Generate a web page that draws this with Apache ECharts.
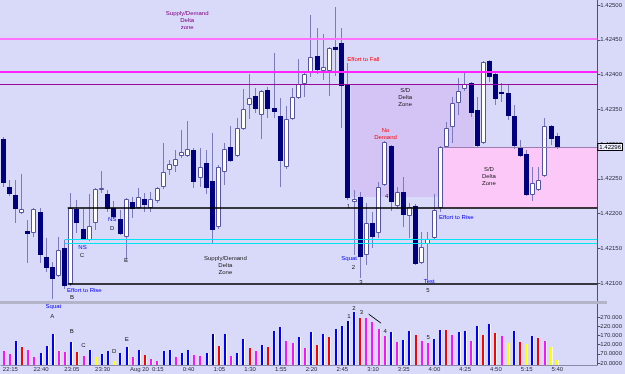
<!DOCTYPE html>
<html>
<head>
<meta charset="utf-8">
<script src="https://cdn.jsdelivr.net/npm/echarts@6/dist/echarts.min.js"></script>
<style>
  html, body { margin: 0; padding: 0; background: #d9d9f9; }
  #chart { width: 625px; height: 374px; }
</style>
</head>
<body>
<div id="chart"></div>
<script>
// M5 bars, 22:10 .. 5:40 (index 0 = 22:10)
const opens = [
  1.42307, 1.42238, 1.42227, 1.42201, 1.42175, 1.42172, 1.42202, 1.42137, 1.42123, 1.42110,
  1.42150, 1.42099, 1.42206, 1.42178, 1.42162, 1.42186, 1.42235, 1.42228, 1.42208, 1.42192,
  1.42166, 1.42217, 1.42208, 1.42221, 1.42208, 1.42218, 1.42238, 1.42263, 1.42268, 1.42283,
  1.42283, 1.42291, 1.42251, 1.42273, 1.42247, 1.42181, 1.42260, 1.42296, 1.42283, 1.42322,
  1.42356, 1.42369, 1.42342, 1.42378, 1.42352, 1.42340, 1.42267, 1.42336, 1.42366, 1.42386,
  1.42402, 1.42427, 1.42405, 1.42405, 1.42440, 1.42445, 1.42386, 1.42217, 1.42224, 1.42140,
  1.42186, 1.42172, 1.42241, 1.42297, 1.42211, 1.42231, 1.42196, 1.42211, 1.42129, 1.42156,
  1.42165, 1.42208, 1.42296, 1.42324, 1.42359, 1.42379, 1.42388, 1.42349, 1.42301, 1.42419,
  1.42401, 1.42375, 1.42373, 1.42340, 1.42294, 1.42286, 1.42227, 1.42234, 1.42254, 1.42326,
  1.42312
];
const closes = [
  1.42244, 1.42228, 1.42206, 1.42206, 1.42170, 1.42206, 1.42140, 1.42122, 1.42106, 1.42147,
  1.42096, 1.42208, 1.42186, 1.42163, 1.42182, 1.42235, 1.42237, 1.42206, 1.42195, 1.42170,
  1.42221, 1.42206, 1.42224, 1.42212, 1.42221, 1.42237, 1.42260, 1.42271, 1.42278, 1.42289,
  1.42293, 1.42245, 1.42267, 1.42237, 1.42176, 1.42267, 1.42293, 1.42276, 1.42323, 1.42350,
  1.42366, 1.42350, 1.42376, 1.42350, 1.42346, 1.42276, 1.42336, 1.42368, 1.42386, 1.42401,
  1.42425, 1.42406, 1.42411, 1.42438, 1.42435, 1.42383, 1.42222, 1.42221, 1.42137, 1.42186,
  1.42166, 1.42238, 1.42303, 1.42217, 1.42231, 1.42198, 1.42209, 1.42127, 1.42152, 1.42163,
  1.42205, 1.42296, 1.42323, 1.42359, 1.42376, 1.42386, 1.42345, 1.42297, 1.42418, 1.42396,
  1.42365, 1.42373, 1.42340, 1.42297, 1.42283, 1.42227, 1.42244, 1.42248, 1.42326, 1.42307,
  1.42296
];
const lows = [
  1.42238, 1.42225, 1.42186, 1.42199, 1.42129, 1.42166, 1.42129, 1.42116, 1.42077, 1.42109,
  1.42091, 1.42096, 1.42172, 1.42162, 1.42160, 1.42176, 1.42229, 1.42202, 1.42194, 1.42169,
  1.42133, 1.42194, 1.42206, 1.42202, 1.42202, 1.42215, 1.42235, 1.42255, 1.42260, 1.42280,
  1.42281, 1.42237, 1.42238, 1.42228, 1.42158, 1.42178, 1.42241, 1.42274, 1.42281, 1.42320,
  1.42336, 1.42345, 1.42307, 1.42337, 1.42337, 1.42238, 1.42264, 1.42335, 1.42365, 1.42368,
  1.42396, 1.42401, 1.42392, 1.42369, 1.42398, 1.42323, 1.42219, 1.42140, 1.42107, 1.42126,
  1.42150, 1.42165, 1.42240, 1.42204, 1.42206, 1.42181, 1.42165, 1.42126, 1.42127, 1.42104,
  1.42163, 1.42202, 1.42294, 1.42301, 1.42342, 1.42376, 1.42339, 1.42296, 1.42300, 1.42389,
  1.42356, 1.42360, 1.42335, 1.42293, 1.42281, 1.42225, 1.42218, 1.42232, 1.42253, 1.42299,
  1.42293
];
const highs = [
  1.42310, 1.42248, 1.42248, 1.42257, 1.42191, 1.42208, 1.42208, 1.42165, 1.42130, 1.42166,
  1.42162, 1.42229, 1.42219, 1.42206, 1.42228, 1.42237, 1.42261, 1.42234, 1.42218, 1.42205,
  1.42222, 1.42224, 1.42237, 1.42229, 1.42231, 1.42238, 1.42301, 1.42277, 1.42291, 1.42320,
  1.42333, 1.42294, 1.42294, 1.42291, 1.42316, 1.42270, 1.42301, 1.42326, 1.42337, 1.42379,
  1.42401, 1.42381, 1.42378, 1.42382, 1.42431, 1.42366, 1.42355, 1.42381, 1.42422, 1.42405,
  1.42486, 1.42467, 1.42458, 1.42440, 1.42497, 1.42467, 1.42417, 1.42234, 1.42231, 1.42215,
  1.42202, 1.42245, 1.42305, 1.42299, 1.42238, 1.42253, 1.42215, 1.42214, 1.42173, 1.42173,
  1.42228, 1.42297, 1.42332, 1.42368, 1.42395, 1.42402, 1.42389, 1.42368, 1.42419, 1.42421,
  1.42404, 1.42388, 1.42386, 1.42356, 1.42306, 1.42291, 1.42267, 1.42267, 1.42337, 1.42327,
  1.42316
];

// volume per bar and the indicator's colour class (b blue, n navy, r red, m magenta, y yellow)
const volumes = [
  85, 69, 140, 107, 91, 53, 74, 113, 178, 85,
  80, 134, 80, 58, 91, 53, 69, 85, 31, 74,
  107, 53, 91, 64, 42, 31, 85, 91, 53, 74,
  91, 64, 58, 74, 178, 113, 178, 58, 74, 151,
  102, 85, 118, 107, 194, 216, 140, 129, 161, 102,
  189, 118, 178, 161, 205, 221, 248, 297, 265, 265,
  243, 205, 167, 189, 134, 145, 194, 172, 140, 129,
  151, 199, 199, 172, 189, 194, 140, 221, 172, 232,
  183, 167, 129, 194, 134, 123, 167, 156, 140, 107,
  36
];
const volKind = ('mmbrmmbbbm' + 'mbrmbybbyb' + 'bmbrmmbbmb' + 'bmmbnrbmbb' + 'rmbrbbmmbm' +
                 'brbrbbnbrm' + 'mmmbmbbrmm' + 'bbrmbbmbrb' + 'rmybrybrmy' + 'y').split('');

// axis ticks
const tickPos = [1, 6, 11, 16, 22, 25, 30, 35, 40, 45, 50, 55, 60, 65, 70, 75, 80, 85, 90];
const tickText = ['22:15', '22:40', '23:05', '23:30', 'Aug 20', '0:15', '0:40', '1:05', '1:30', '1:55',
                  '2:20', '2:45', '3:10', '3:35', '4:00', '4:25', '4:50', '5:15', '5:40'];
const priceTicks = [1.421, 1.4215, 1.422, 1.4225, 1.423, 1.4235, 1.424, 1.4245, 1.425];
const volTicks = [20, 70, 120, 170, 220, 270];

// drawn objects: zones [fromIdx, toIdx, top, bottom], levels [fromIdx, price]
const zones = [
  [56.5, 76.5, 1.42386, 1.42224],
  [71.5, 96.5, 1.42296, 1.42208]
];
const levels = [
  [-0.5, 1.42451],
  [-0.5, 1.42404],
  [-0.5, 1.42386],
  [10.5, 1.42208],
  [10, 1.42163],
  [10, 1.42158],
  [10.5, 1.42099],
  [71.5, 1.42296]
];
const volTrend = [[59.3, 286, 61.3, 237]];

// notes [idx, value, text, kind]
const priceNotes = [
  [29.9, 1.42478, 'Supply/Demand\nDelta\nzone', 'zone'],
  [58.5, 1.42422, 'Effort to Fall', 'red'],
  [65.3, 1.42367, 'S/D\nDelta\nZone', 'dark'],
  [62.1, 1.42315, 'No\nDemand', 'red'],
  [78.9, 1.42253, 'S/D\nDelta\nZone', 'dark'],
  [73.6, 1.42195, 'Effort to Rise', 'blue'],
  [69.2, 1.42103, 'Test', 'blue'],
  [69.0, 1.42089, '5', 'dark'],
  [56.2, 1.42136, 'Squat', 'blue'],
  [56.9, 1.42123, '2', 'dark'],
  [58.1, 1.42101, '3', 'dark'],
  [56.1, 1.42211, '1', 'dark'],
  [62.3, 1.42225, '4', 'dark'],
  [36.1, 1.42126, 'Supply/Demand\nDelta\nZone', 'dark'],
  [13.2, 1.42090, 'Effort to Rise', 'blue'],
  [11.2, 1.42080, 'B', 'dark'],
  [12.9, 1.42152, 'NS', 'blue'],
  [12.8, 1.42140, 'C', 'dark'],
  [17.7, 1.42192, 'NS', 'blue'],
  [17.7, 1.42179, 'D', 'dark'],
  [19.95, 1.42133, 'E', 'dark']
];
const volNotes = [
  [8.0, 330, 'Squat', 'blue'],
  [7.8, 276, 'A', 'dark'],
  [11.0, 194, 'B', 'dark'],
  [12.9, 118, 'C', 'dark'],
  [17.9, 85, 'D', 'dark'],
  [19.95, 150, 'E', 'dark'],
  [56.1, 276, '1', 'dark'],
  [56.9, 319, '2', 'dark'],
  [58.1, 297, '3', 'dark'],
  [62.0, 194, '4', 'dark'],
  [69.0, 161, '5', 'dark']
];

// styles
const FONT = '6px "Liberation Sans", Arial, sans-serif';
const zoneFill = ['#d4c4f6', '#fcc8f8'];
const levelStyle = [
  { c: '#ff70ff', w: 2 },
  { c: '#ff20ff', w: 2 },
  { c: '#9a0a9a', w: 1 },
  { c: '#000000', w: 1.5 },
  { c: '#00e4f4', w: 1 },
  { c: '#00e4f4', w: 1 },
  { c: '#000000', w: 1.5 },
  { c: '#9a80b0', w: 1 }
];
const noteColor = { zone: '#800080', red: '#ff0000', dark: '#1a1a1a', blue: '#0000ff' };
const volPalette = { b: '#0000ff', n: '#00009a', r: '#ff0000', m: '#ff10ff', y: '#ffff00' };

function renderZone(params, api) {
  const a = api.coord([api.value(0), api.value(2)]);
  const b = api.coord([api.value(1), api.value(3)]);
  const x = Math.round(a[0]), y = Math.round(a[1]);
  return {
    type: 'rect',
    shape: { x: x, y: y, width: Math.round(b[0]) - x, height: Math.round(b[1]) - y },
    style: { fill: zoneFill[params.dataIndex] }
  };
}

function renderLevel(params, api) {
  const a = api.coord([api.value(0), api.value(1)]);
  const st = levelStyle[params.dataIndex];
  const right = params.coordSys.x + params.coordSys.width;
  const y = Math.round(a[1]) + (st.w === 1 ? 0.5 : 0);
  return {
    type: 'line',
    shape: { x1: a[0], y1: y, x2: right, y2: y },
    style: { stroke: st.c, lineWidth: st.w }
  };
}

function renderCandle(params, api) {
  const i = api.value(0), o = api.value(1), c = api.value(2);
  const pO = api.coord([i, o]);
  const pC = api.coord([i, c]);
  const pL = api.coord([i, api.value(3)]);
  const pH = api.coord([i, api.value(4)]);
  const x0 = Math.round(pO[0] - 2.5);
  const xm = x0 + 2.5;
  const top = Math.round(Math.min(pO[1], pC[1]));
  let bot = Math.round(Math.max(pO[1], pC[1]));
  if (bot - top < 2) bot = top + 2;
  const wick = {
    type: 'line',
    shape: { x1: xm, y1: Math.round(pH[1]), x2: xm, y2: Math.round(pL[1]) },
    style: { stroke: '#7a7abd', lineWidth: 1 }
  };
  const body = c >= o
    ? { type: 'rect', shape: { x: x0 + 0.5, y: top + 0.5, width: 4, height: bot - top - 1 },
        style: { fill: '#ffffff', stroke: '#5454a0', lineWidth: 1 } }
    : { type: 'rect', shape: { x: x0, y: top, width: 5, height: bot - top },
        style: { fill: '#00007e' } };
  return { type: 'group', children: [wick, body] };
}

function renderVol(params, api) {
  const i = api.value(0);
  const p = api.coord([i, api.value(1)]);
  const base = params.coordSys.y + params.coordSys.height;
  const x0 = Math.round(p[0] - 1.5);
  const top = Math.round(p[1]);
  return {
    type: 'group',
    children: [
      { type: 'rect', shape: { x: x0, y: top, width: 2, height: base - top },
        style: { fill: volPalette[volKind[i]] } },
      { type: 'rect', shape: { x: x0 + 2, y: top, width: 1, height: base - top },
        style: { fill: '#ffffff' } }
    ]
  };
}

function renderTrend(params, api) {
  const a = api.coord([api.value(0), api.value(1)]);
  const b = api.coord([api.value(2), api.value(3)]);
  return {
    type: 'line',
    shape: { x1: a[0], y1: a[1], x2: b[0], y2: b[1] },
    style: { stroke: '#000000', lineWidth: 1 }
  };
}

function noteRenderer(list) {
  return function (params, api) {
    const n = list[params.dataIndex];
    const p = api.coord([n[0], n[1]]);
    return {
      type: 'text',
      x: p[0], y: p[1],
      style: {
        text: n[2], fill: noteColor[n[3]], font: FONT,
        align: 'center', verticalAlign: 'middle', lineHeight: 7
      }
    };
  };
}

function renderBid(params, api) {
  const p = api.coord([api.value(0), api.value(1)]);
  return {
    type: 'text',
    x: p[0] + 1, y: Math.round(p[1]),
    style: {
      text: api.value(1).toFixed(5), fill: '#000000', font: FONT,
      align: 'left', verticalAlign: 'middle',
      backgroundColor: '#eeeeff', borderColor: '#000000', borderWidth: 1, padding: [0, 1]
    }
  };
}

const chart = echarts.init(document.getElementById('chart'), null, { renderer: 'canvas' });

const axisText = { fontSize: 6, color: '#303040', fontFamily: '"Liberation Sans", Arial, sans-serif' };

chart.setOption({
  animation: false,
  backgroundColor: '#d9d9f9',
  grid: [
    { left: 0, top: 0, width: 607, height: 301 },
    { left: 0, top: 304, width: 607, height: 61 }
  ],
  graphic: [
    { type: 'rect', shape: { x: 0, y: 301, width: 607, height: 3 }, style: { fill: '#b4b4c8' }, z: 1 }
  ],
  xAxis: [
    { type: 'value', gridIndex: 0, min: -0.5, max: 96.5, show: false },
    {
      type: 'value', gridIndex: 1, min: -0.5, max: 96.5,
      splitLine: { show: false },
      axisLine: { show: true, onZero: false, lineStyle: { color: '#8a8aa8' } },
      axisTick: { show: false },
      axisLabel: Object.assign({
        customValues: tickPos,
        margin: 1,
        formatter: v => tickText[tickPos.indexOf(Math.round(v))] || ''
      }, axisText)
    }
  ],
  yAxis: [
    {
      type: 'value', gridIndex: 0, position: 'right',
      min: 1.420741, max: 1.425072,
      splitLine: { show: false },
      axisLine: { show: true, onZero: false, lineStyle: { color: '#505068' } },
      axisTick: { show: true, customValues: priceTicks, length: 3, lineStyle: { color: '#505068' } },
      axisLabel: Object.assign({
        customValues: priceTicks, margin: 3,
        formatter: v => v.toFixed(5)
      }, axisText)
    },
    {
      type: 'value', gridIndex: 1, position: 'right',
      min: 9.2, max: 341,
      splitLine: { show: false },
      axisLine: { show: true, onZero: false, lineStyle: { color: '#505068' } },
      axisTick: { show: true, customValues: volTicks, length: 3, lineStyle: { color: '#505068' } },
      axisLabel: Object.assign({
        customValues: volTicks, margin: 3,
        formatter: v => (v >= 100 ? v.toFixed(3) : v.toFixed(4))
      }, axisText)
    }
  ],
  series: [
    {
      type: 'custom', name: 'zones', xAxisIndex: 0, yAxisIndex: 0,
      renderItem: renderZone, data: zones, silent: true, z: 1
    },
    {
      type: 'custom', name: 'candles', xAxisIndex: 0, yAxisIndex: 0,
      renderItem: renderCandle,
      encode: { x: 0, y: [1, 2, 3, 4] },
      data: opens.map((o, i) => [i, o, closes[i], lows[i], highs[i]]),
      z: 3
    },
    {
      type: 'custom', name: 'levels', xAxisIndex: 0, yAxisIndex: 0,
      renderItem: renderLevel, data: levels, silent: true, z: 4
    },
    {
      type: 'custom', name: 'notes', xAxisIndex: 0, yAxisIndex: 0,
      renderItem: noteRenderer(priceNotes), data: priceNotes.map(n => [n[0], n[1]]), silent: true, z: 5
    },
    {
      type: 'custom', name: 'bid', xAxisIndex: 0, yAxisIndex: 0,
      renderItem: renderBid, data: [[96.5, closes[closes.length - 1]]], silent: true, z: 6
    },
    {
      type: 'custom', name: 'volume', xAxisIndex: 1, yAxisIndex: 1,
      renderItem: renderVol, encode: { x: 0, y: 1 },
      data: volumes.map((v, i) => [i, v]), z: 3
    },
    {
      type: 'custom', name: 'volTrend', xAxisIndex: 1, yAxisIndex: 1,
      renderItem: renderTrend, data: volTrend, silent: true, z: 4
    },
    {
      type: 'custom', name: 'volNotes', xAxisIndex: 1, yAxisIndex: 1,
      renderItem: noteRenderer(volNotes), data: volNotes.map(n => [n[0], n[1]]), silent: true, z: 5
    }
  ]
});
</script>
</body>
</html>
